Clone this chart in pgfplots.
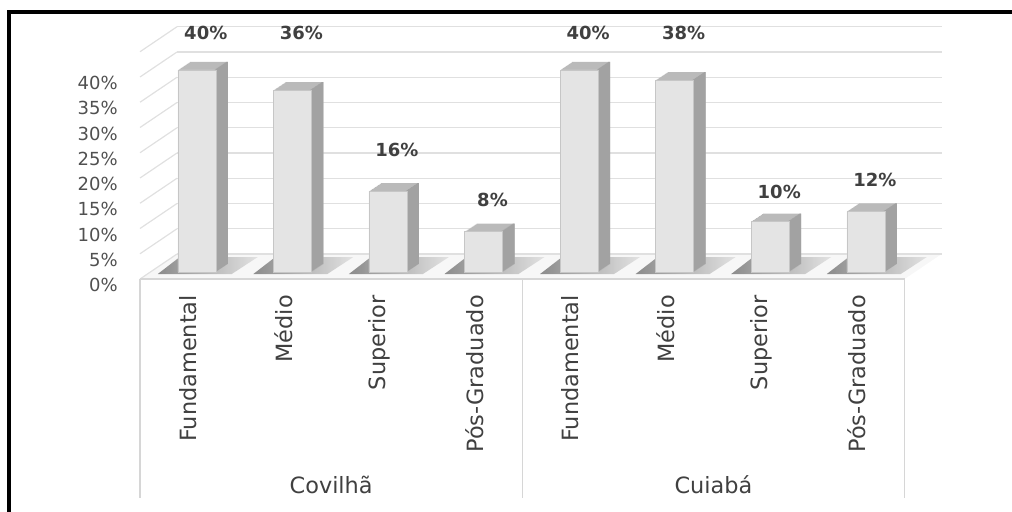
\documentclass[border=0pt]{standalone}
\usepackage{fontspec}
\setmainfont{DejaVu Sans}
\usepackage{pgfplots}
\pgfplotsset{compat=1.18}
\usepackage{pgfplotstable}

\definecolor{frontc}{HTML}{E4E4E4}
\definecolor{sidec}{HTML}{A2A2A2}
\definecolor{topc}{HTML}{BABABA}
\definecolor{txt}{HTML}{404040}
\definecolor{tick}{HTML}{505050}
\definecolor{gridc}{HTML}{E0E0E0}
\definecolor{boxc}{HTML}{D6D6D6}

% x: category index, v: value (%), ly: height of the value label
\pgfplotstableread{
x v ly
0 40 48.7
1 36 48.7
2 16 25.5
3 8 15.6
4 40 48.7
5 38 48.7
6 10 17.2
7 12 19.6
}\data

\begin{document}
\begin{tikzpicture}
\useasboundingbox (0,0) rectangle (759pt,383.25pt);
\begin{axis}[
  at={(105pt,174pt)}, anchor=south west,
  x=71.68pt, y=3.7875pt,
  xmin=-0.5, xmax=7.5, ymin=0, ymax=50,
  clip=false,
  axis line style={draw=none},
  tick style={draw=none},
  major tick length=0pt,
  ytick={0,5,...,40},
  yticklabel={\pgfmathprintnumber{\tick}\%},
  /pgf/number format/assume math mode=true,
  yticklabel style={font=\fontsize{13.5}{14}\selectfont, text=tick, inner sep=0pt, anchor=east, xshift=-16.5pt, yshift=-4.5pt},
  xtick={0,...,7},
  xticklabels={Fundamental,Médio,Superior,Pós-Graduado,Fundamental,Médio,Superior,Pós-Graduado},
  xticklabel style={rotate=90, anchor=east, inner sep=0pt, font=\fontsize{16.8}{18}\selectfont, text=txt},
  xticklabel shift=12pt,
]
% floor
\fill[gray!6] (axis cs:-0.5,0) -- (axis cs:7.5,0) -- ++(27.75pt,18.75pt) -- ([shift={(27.75pt,18.75pt)}]axis cs:-0.5,0) -- cycle;
% walls: back grid lines and left wall lines
\pgfplotsinvokeforeach{0,5,10,15,20,25,30,35,40,45}{
  \draw[gridc, line width=0.9pt] ([shift={(27.75pt,18.75pt)}]axis cs:-0.5,#1) -- ([shift={(27.75pt,18.75pt)}]axis cs:7.5,#1);
  \draw[gridc, line width=0.9pt] (axis cs:-0.5,#1) -- ++(27.75pt,18.75pt);
}
% category box
\draw[boxc, line width=0.9pt] (axis cs:-0.5,0) -- (axis cs:7.5,0);
\draw[boxc, line width=0.9pt] (axis cs:-0.5,0) -- (axis cs:-0.5,-43.4);
\draw[boxc, line width=0.9pt] (axis cs:3.5,0) -- (axis cs:3.5,-43.4);
\draw[boxc, line width=0.9pt] (axis cs:7.5,0) -- (axis cs:7.5,-43.4);
% floor shadows
\pgfplotsinvokeforeach{0,...,7}{
  \shade[left color=gray!95!black, right color=gray!25, opacity=0.85]
    ([shift={(-22.5pt,3.75pt)}]axis cs:#1,0) -- ([shift={(33pt,3.75pt)}]axis cs:#1,0)
    -- ([shift={(52.5pt,16.5pt)}]axis cs:#1,0) -- ([shift={(-6pt,16.5pt)}]axis cs:#1,0) -- cycle;
}
% bar depth: top faces (extrusion)
\pgfplotsinvokeforeach{12,11,...,1}{
  \addplot[ybar, bar width=28.5pt, bar shift={6.75pt+#1*0.75pt}, yshift={5.25pt+#1*0.5pt}, fill=topc, draw=none, forget plot]
    table[x=x, y=v] {\data};
}
% bar depth: side faces
\pgfplotsinvokeforeach{12,11,...,1}{
  \addplot[ybar, bar width=1.4pt, bar shift={20.3pt+#1*0.75pt}, yshift={5.25pt+#1*0.5pt}, fill=sidec, draw=none, forget plot]
    table[x=x, y=v] {\data};
}
% front faces
\addplot[ybar, bar width=28.5pt, bar shift=6.75pt, yshift=5.25pt, fill=frontc, draw=gray!45, line width=0.3pt, forget plot]
  table[x=x, y=v] {\data};
% value labels
\addplot[only marks, mark=*, mark size=0pt, mark options={draw=none, fill=none},
  point meta=explicit,
  nodes near coords={\pgfmathprintnumber{\pgfplotspointmeta}\%},
  nodes near coords style={anchor=center, xshift=13.5pt, font=\bfseries\fontsize{13.5}{14}\selectfont, text=txt}]
  table[x=x, y=ly, meta=v] {\data};
% group labels
\node[font=\fontsize{16.8}{18}\selectfont, text=txt] at (axis cs:1.5,-40.8) {Covilhã};
\node[font=\fontsize{16.8}{18}\selectfont, text=txt] at (axis cs:5.5,-40.8) {Cuiabá};
\end{axis}
\draw[line width=3pt] (6.75pt,-5pt) -- (6.75pt,374.25pt) -- (765pt,374.25pt);
\end{tikzpicture}
\end{document}
